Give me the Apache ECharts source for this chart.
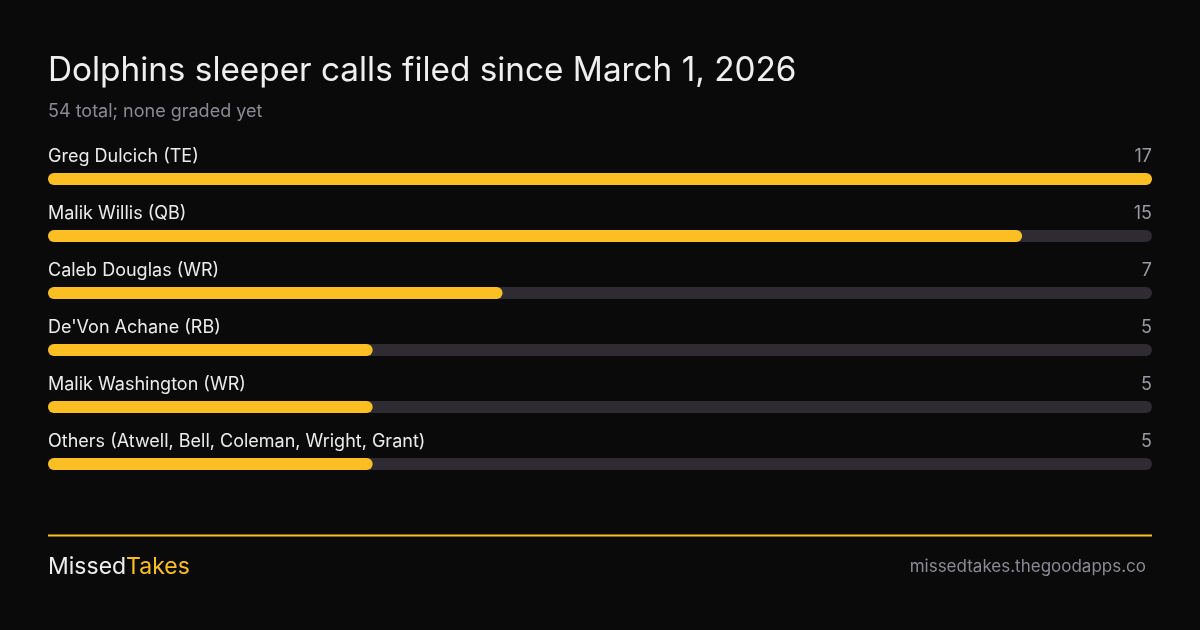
<!DOCTYPE html>
<html lang="en">
<head>
    <meta charset="UTF-8">
    <title>Dolphins sleeper calls</title>
    <script src="https://cdn.jsdelivr.net/npm/echarts@6/dist/echarts.min.js"></script>
    <style>
        html, body { margin: 0; padding: 0; background: #0a0a0a; }
        #chart { width: 1200px; height: 630px; }
    </style>
</head>
<body>
<div id="chart"></div>
<script type="text/javascript">
    // data
    var players = ['Greg Dulcich (TE)', 'Malik Willis (QB)', 'Caleb Douglas (WR)',
        "De'Von Achane (RB)", 'Malik Washington (WR)', 'Others (Atwell, Bell, Coleman, Wright, Grant)'];
    var calls = [17, 15, 7, 5, 5, 5];
    var maxCalls = 17;
    var trackValues = players.map(function () { return maxCalls; });

    var FONT = 'Inter, "Noto Sans", sans-serif';
    var myChart = echarts.init(document.getElementById('chart'));

    var option = {
        backgroundColor: '#0a0a0a',
        animation: false,
        title: [{
            text: 'Dolphins sleeper calls filed since March 1, 2026',
            left: 48, top: 54, padding: 0,
            textStyle: { color: '#efefef', fontSize: 33.3, fontWeight: 'normal', fontFamily: FONT }
        }, {
            text: '54 total; none graded yet',
            left: 48, top: 103, padding: 0,
            textStyle: { color: '#8b8b94', fontSize: 18, fontWeight: 'normal', fontFamily: FONT, letterSpacing: 0.3 }
        }, {
            text: '{a|Missed}{b|Takes}',
            left: 48, top: 556, padding: 0,
            textStyle: {
                fontFamily: FONT,
                fontWeight: 'normal',
                rich: {
                    a: { color: '#eeeeee', fontSize: 23, fontFamily: FONT, fontWeight: 'normal' },
                    b: { color: '#fbbf24', fontSize: 23, fontFamily: FONT, fontWeight: 'normal' }
                }
            }
        }, {
            text: 'missedtakes.thegoodapps.co',
            right: 54, top: 558, padding: 0,
            textStyle: { color: '#8b8b94', fontSize: 17, fontWeight: 'normal', fontFamily: FONT, letterSpacing: 0.2 }
        }],
        graphic: [{
            type: 'line',
            shape: { x1: 48, y1: 535.5, x2: 1152, y2: 535.5 },
            style: { stroke: '#fbbf24', lineWidth: 2 }
        }],
        grid: { left: 48, right: 48, top: 150.5, bottom: 137.5 },
        xAxis: {
            type: 'value', min: 0, max: maxCalls,
            show: false
        },
        yAxis: {
            type: 'category', data: players, inverse: true,
            axisLine: { show: false }, axisTick: { show: false }, axisLabel: { show: false }
        },
        series: [{
            name: 'track',
            type: 'bar',
            data: trackValues,
            barWidth: 12,
            itemStyle: { color: '#2e2b33', borderRadius: 6 },
            label: {
                show: true,
                position: ['100%', -7],
                align: 'right',
                verticalAlign: 'bottom',
                color: '#9a9aa2',
                fontSize: 18,
                fontFamily: FONT,
                formatter: function (p) { return calls[p.dataIndex]; }
            },
            silent: true,
            z: 1
        }, {
            name: 'calls',
            type: 'bar',
            data: calls,
            barWidth: 12,
            barGap: '-100%',
            itemStyle: { color: '#fbbf24', borderRadius: 6 },
            label: {
                show: true,
                position: [0, -7],
                align: 'left',
                verticalAlign: 'bottom',
                color: '#ececec',
                fontSize: 18,
                fontFamily: FONT,
                letterSpacing: 0.2,
                formatter: function (p) { return players[p.dataIndex]; }
            },
            z: 2
        }]
    };

    myChart.setOption(option);
</script>
</body>
</html>
